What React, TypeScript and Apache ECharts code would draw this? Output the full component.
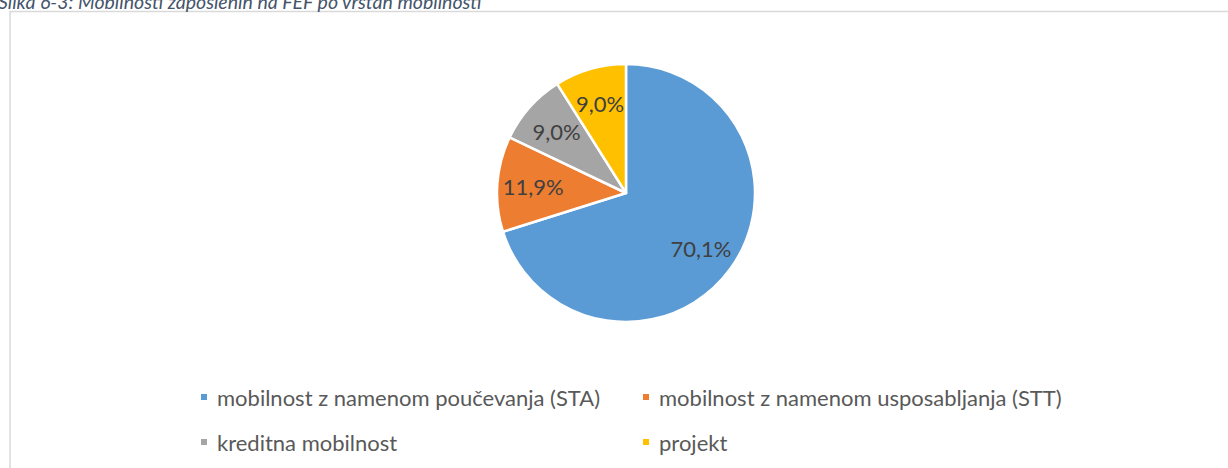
import React, { useEffect, useRef } from "react";
import * as echarts from "echarts";

const categories = [
  "mobilnost z namenom poučevanja (STA)",
  "mobilnost z namenom usposabljanja (STT)",
  "kreditna mobilnost",
  "projekt",
];
const values = [47, 8, 6, 6];
const colors = ["#5B9BD5", "#ED7D31", "#A5A5A5", "#FFC000"];
const titleText = "Slika 6-3: Mobilnosti zaposlenih na FEF po vrstah mobilnosti";

const FONT = "Lato, Carlito, 'Open Sans', sans-serif";

export default function App() {
  const ref = useRef<HTMLDivElement>(null);
  useEffect(() => {
    if (!ref.current) return;
    const chart = echarts.init(ref.current, null, { renderer: "svg" });
    const data = categories.map((name, i) => ({
      name,
      value: values[i],
      itemStyle: { color: colors[i] },
    }));
    const total = values.reduce((a, b) => a + b, 0);
    const legendPos = [
      { left: 199, top: 386 },
      { left: 641, top: 386 },
      { left: 199, top: 431 },
      { left: 641, top: 431 },
    ];
    chart.setOption({
      animation: false,
      legend: categories.map((name, i) => ({
        data: [name],
        left: legendPos[i].left,
        top: legendPos[i].top,
        padding: 0,
        icon: "rect",
        itemWidth: 8,
        itemHeight: 8,
        itemGap: 0,
        selectedMode: false,
        textStyle: { color: "#595959", fontSize: 22, fontFamily: FONT, padding: [0, 0, 0, 4] },
      })),
      graphic: [
        {
          type: "rect",
          shape: { x: 10, y: 11.5, width: 1240, height: 480 },
          style: { fill: "none", stroke: "#D9D9D9", lineWidth: 1.5 },
          silent: true,
        },
        {
          type: "text",
          left: -2,
          top: -9,
          style: {
            text: titleText,
            fill: "#44546A",
            font: `italic 19.5px ${FONT}`,
          },
          silent: true,
        },
      ],
      series: [
        {
          type: "pie",
          center: [626, 193],
          radius: [0, 129],
          startAngle: 90,
          clockwise: true,
          data,
          itemStyle: { borderColor: "#FFFFFF", borderWidth: 2.5 },
          label: { show: false },
          labelLine: { show: false },
          silent: true,
        },
        {
          type: "pie",
          center: [626, 193],
          radius: [51, 129],
          startAngle: 90,
          clockwise: true,
          data: data.map((d) => ({ ...d, itemStyle: { color: "rgba(0,0,0,0)" } })),
          itemStyle: { borderWidth: 0 },
          label: {
            show: true,
            position: "inside",
            color: "#404040",
            fontSize: 22,
            fontFamily: FONT,
            formatter: (p: any) => ((p.value / total) * 100).toFixed(1).replace(".", ",") + "%",
          },
          labelLine: { show: false },
          silent: true,
        },
      ],
    });
    return () => chart.dispose();
  }, []);
  return (
    <div
      ref={ref}
      style={{ position: "fixed", left: 0, top: 0, width: 1228, height: 468, background: "#fff" }}
    />
  );
}
